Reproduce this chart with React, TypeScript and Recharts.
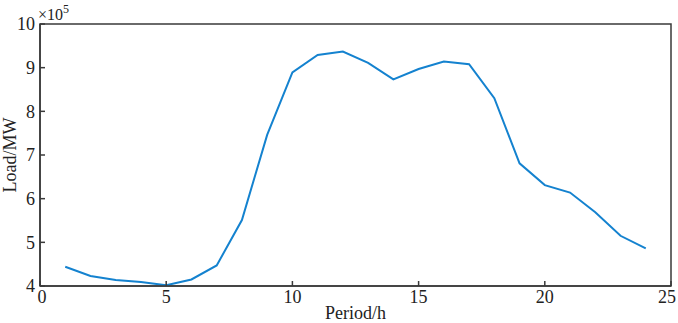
import { LineChart, Line, XAxis, YAxis, ReferenceArea, Label } from "recharts";

// load per hour, in units of 10^5 MW
const periods = [1, 2, 3, 4, 5, 6, 7, 8, 9, 10, 11, 12, 13, 14, 15, 16, 17, 18, 19, 20, 21, 22, 23, 24];
const loads = [
  4.44, 4.23, 4.14, 4.09, 4.02, 4.15, 4.47, 5.51, 7.46, 8.89, 9.29, 9.37,
  9.11, 8.73, 8.97, 9.14, 9.08, 8.3, 6.81, 6.31, 6.14, 5.69, 5.15, 4.86,
];
const xTicks = [0, 5, 10, 15, 20, 25];
const yTicks = [4, 5, 6, 7, 8, 9, 10];

const data = periods.map((p, i) => ({ period: p, load: loads[i] }));

const FONT = "'Liberation Serif', 'Times New Roman', serif";
const AXIS = "#3a3a3a";
const TEXT = "#222";
const tickStyle = { fontFamily: FONT, fontSize: 18, fill: TEXT };

// bottom tick label; the last one is nudged left so it stays inside the frame
function XTick(props: any) {
  const { x, y, payload } = props;
  const shift = payload.value === 25 ? -4 : payload.value === 0 ? 2 : 0;
  return (
    <text x={x + shift} y={y} dy="0.71em" textAnchor="middle" {...tickStyle}>
      {payload.value}
    </text>
  );
}

export default function App() {
  return (
    <div style={{ position: "absolute", left: 0, top: 0, width: 678, height: 323, background: "#fff" }}>
      <LineChart width={678} height={323} data={data} margin={{ top: 24, right: 7, bottom: 0, left: 0 }}>
        <ReferenceArea x1={0} x2={25} y1={4} y2={10} fill="none" stroke={AXIS} strokeWidth={1.5} />
        <XAxis
          dataKey="period"
          type="number"
          domain={[0, 25]}
          ticks={xTicks}
          height={37}
          tickSize={-5}
          tickMargin={9}
          stroke={AXIS}
          strokeWidth={1.5}
          tick={<XTick />}
          interval={0}
        >
          <Label value="Period/h" position="insideBottom" offset={4} style={{ fontFamily: FONT, fontSize: 18, fill: TEXT }} />
        </XAxis>
        <YAxis
          type="number"
          domain={[4, 10]}
          ticks={yTicks}
          width={40}
          tickSize={-5}
          tickMargin={10}
          stroke={AXIS}
          strokeWidth={1.5}
          tick={tickStyle}
          interval={0}
        >
          <Label
            value="Load/MW"
            angle={-90}
            position="insideLeft"
            offset={10}
            style={{ fontFamily: FONT, fontSize: 18, fill: TEXT, textAnchor: "middle" }}
          />
        </YAxis>
        <Line
          type="linear"
          dataKey="load"
          stroke="#1482cf"
          strokeWidth={2}
          dot={false}
          isAnimationActive={false}
        />
      </LineChart>
      <div
        style={{
          position: "absolute",
          left: 38,
          top: 6,
          fontFamily: FONT,
          fontSize: 16,
          color: TEXT,
          lineHeight: "18px",
        }}
      >
        ×10<sup style={{ fontSize: 12, verticalAlign: "top", position: "relative", top: -6 }}>5</sup>
      </div>
    </div>
  );
}
